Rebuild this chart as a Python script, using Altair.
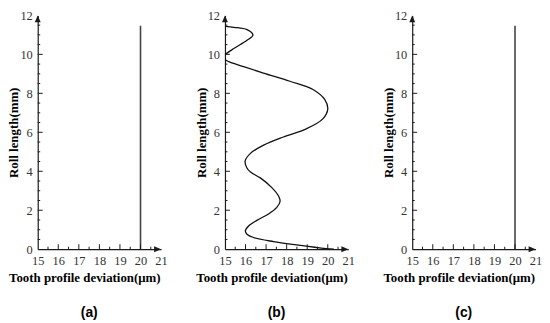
import altair as alt
import pandas as pd

# ---- data ----
x_labels = [15, 16, 17, 18, 19, 20, 21]
y_labels = [0, 2, 4, 6, 8, 10, 12]
x_major_ticks = [16, 17, 18, 19, 20]
x_minor_ticks = [15.5, 16.5, 17.5, 18.5, 19.5, 20.5]
y_major_ticks = [2, 4, 6, 8, 10]
y_minor_ticks = [0.5, 1, 1.5, 2.5, 3, 3.5, 4.5, 5, 5.5, 6.5, 7, 7.5,
                 8.5, 9, 9.5, 10.5, 11, 11.5]

# panel (a) and (c): constant deviation
flat_x = [20.0, 20.0]
flat_y = [0.0, 11.47]

# panel (b): wavy deviation (ordered along the roll length)
wave_x = [20.3, 19.92, 18.48, 17.36, 16.39, 16.07, 15.99, 16.15, 16.55, 17.12,
          17.52, 17.68, 17.6, 17.28, 16.72, 16.24, 16.07, 15.98, 16.24, 16.88,
          17.84, 18.96, 19.76, 20.0, 19.85, 19.28, 18.16, 16.87, 15.91, 15.27,
          15.03, 14.9, 15.02, 15.43, 16.07, 16.36, 16.07, 15.43, 15.03]
wave_y = [0.0, 0.03, 0.22, 0.39, 0.6, 0.77, 0.94, 1.19, 1.48, 1.81,
          2.15, 2.45, 2.74, 3.16, 3.66, 3.96, 4.17, 4.52, 4.92, 5.34,
          5.76, 6.18, 6.69, 7.19, 7.69, 8.2, 8.62, 9.04, 9.37, 9.59,
          9.71, 9.85, 10.0, 10.3, 10.72, 11.0, 11.27, 11.39, 11.44]

panel_labels = ["(a)", "(b)", "(c)"]

# ---- layout / style ----
W, H = 124.5, 236
PX_X = W / 6.0      # pixels per x unit
PX_Y = H / 12.0     # pixels per y unit
SERIF = "Liberation Serif"
INK = "#1a1a1a"

xs = alt.Scale(domain=[15, 21], nice=False, zero=False)
ys = alt.Scale(domain=[0, 12], nice=False, zero=False)

x_axis = alt.Axis(values=x_labels, ticks=False, grid=False, domain=True,
                  domainColor=INK, domainWidth=1.2,
                  labelFont=SERIF, labelFontSize=12.5, labelColor="#333333",
                  labelPadding=5, labelFlush=False,
                  title="Tooth profile deviation(μm)", titleFont=SERIF,
                  titleFontSize=13, titleFontWeight="bold", titleColor="#000000",
                  titleX=47, titleY=29, titleAlign="center", titleBaseline="middle")
y_axis = alt.Axis(values=y_labels, ticks=False, grid=False, domain=True,
                  domainColor=INK, domainWidth=1.2,
                  labelFont=SERIF, labelFontSize=12.5, labelColor="#333333",
                  labelPadding=5.5, labelFlush=False,
                  title="Roll length(mm)", titleFont=SERIF,
                  titleFontSize=13, titleFontWeight="bold", titleColor="#000000",
                  titleX=-24, titleY=H / 2, titleAngle=270, titleAlign="center",
                  titleBaseline="middle")

MAJ, MIN = 5.0, 2.5  # tick lengths in pixels


def X(field):
    return alt.X(field, scale=xs, axis=x_axis)


def Y(field):
    return alt.Y(field, scale=ys, axis=y_axis)


def tick_layers():
    xt = pd.DataFrame({
        "v": x_major_ticks + x_minor_ticks,
        "y0": 0.0,
        "y1": [MAJ / PX_Y] * len(x_major_ticks) + [MIN / PX_Y] * len(x_minor_ticks),
    })
    yt = pd.DataFrame({
        "v": y_major_ticks + y_minor_ticks,
        "x0": 15.0,
        "x1": [15 + MAJ / PX_X] * len(y_major_ticks) + [15 + MIN / PX_X] * len(y_minor_ticks),
    })
    xr = alt.Chart(xt).mark_rule(color=INK, strokeWidth=1).encode(
        x=X("v:Q"), y=Y("y0:Q"), y2="y1:Q")
    yr = alt.Chart(yt).mark_rule(color=INK, strokeWidth=1).encode(
        y=Y("v:Q"), x=X("x0:Q"), x2="x1:Q")
    up = alt.Chart(pd.DataFrame({"x": [15.0], "y": [12.0]})).mark_point(
        shape="M0,-1L0.85,1L-0.85,1Z", filled=True, size=49, opacity=1,
        color=INK, yOffset=3.5).encode(x=X("x:Q"), y=Y("y:Q"))
    right = alt.Chart(pd.DataFrame({"x": [21.0], "y": [0.0]})).mark_point(
        shape="M1,0L-1,0.85L-1,-0.85Z", filled=True, size=49, opacity=1,
        color=INK, xOffset=-3.5).encode(x=X("x:Q"), y=Y("y:Q"))
    return [xr, yr, up, right]


def panel(xv, yv, label, color, width):
    df = pd.DataFrame({"x": xv, "y": yv, "i": list(range(len(xv)))})
    curve = alt.Chart(df).mark_line(color=color, strokeWidth=width, clip=True,
                                    interpolate="catmull-rom").encode(
        x=X("x:Q"), y=Y("y:Q"), order="i:Q")
    lab = alt.Chart(pd.DataFrame({"t": [label]})).mark_text(
        font="Liberation Sans", fontSize=14, fontWeight="bold", color="#000000",
        align="center", baseline="middle").encode(
        text="t:N", x=alt.value(52), y=alt.value(H + 64))
    return alt.layer(curve, *tick_layers(), lab).properties(width=W, height=H)


pa = panel(flat_x, flat_y, panel_labels[0], "#444444", 1.6)
pb = panel(wave_x, wave_y, panel_labels[1], "#111111", 1.3)
pc = panel(flat_x, flat_y, panel_labels[2], "#444444", 1.6)

chart = alt.hconcat(pa, pb, pc, spacing=64, bounds="flush").properties(
    padding={"left": 0, "top": 0, "right": 0, "bottom": 0}
).configure_view(stroke=None)

chart.save("out.html", embed_options={"renderer": "svg", "actions": False})
